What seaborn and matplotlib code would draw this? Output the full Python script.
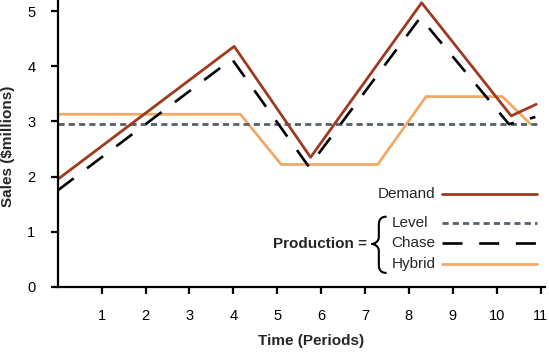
import matplotlib
matplotlib.use('Agg')
import matplotlib.pyplot as plt
import seaborn as sns
import numpy as np
from matplotlib.path import Path
from matplotlib.patches import PathPatch
from matplotlib.lines import Line2D

# dados
demand_t = [0, 4.02, 5.76, 8.29, 10.33, 10.9]
demand_v = [1.95, 4.36, 2.35, 5.15, 3.10, 3.31]

chase_t = [0, 3.97, 5.72, 8.26, 10.28, 10.88]
chase_v = [1.75, 4.13, 2.18, 4.88, 2.95, 3.08]

level_t = [0, 11]
level_v = [2.95, 2.95]

hybrid_t = [0, 4.16, 5.09, 7.29, 8.39, 10.13, 10.76]
hybrid_v = [3.13, 3.13, 2.22, 2.22, 3.45, 3.45, 2.96]

x_ticks = list(range(1, 12))
y_ticks = list(range(0, 6))

c_demand = '#9e3a1f'
c_level = '#56606a'
c_chase = '#000000'
c_hybrid = '#f0aa66'

ls_level = (0, (2.2, 1.5))
ls_chase = (0, (7.6, 6.3))

sns.set_style('ticks')
plt.rcParams['font.family'] = ['Liberation Sans', 'DejaVu Sans']

fig = plt.figure(figsize=(5.49, 3.55), dpi=100)
ax = fig.add_axes([57.7/549, 1 - 287/355, 487.3/549, 287/355])

sns.lineplot(x=hybrid_t, y=hybrid_v, ax=ax, color=c_hybrid, linewidth=2, sort=False)
sns.lineplot(x=level_t, y=level_v, ax=ax, color=c_level, linewidth=2, linestyle=ls_level, sort=False)
sns.lineplot(x=chase_t, y=chase_v, ax=ax, color=c_chase, linewidth=1.9, linestyle=ls_chase, sort=False)
sns.lineplot(x=demand_t, y=demand_v, ax=ax, color=c_demand, linewidth=2, sort=False)

ax.set_xlim(0, 11.1)
ax.set_ylim(0, 5.2)
ax.set_xticks(x_ticks)
ax.set_yticks(y_ticks)
ax.set_xticklabels([str(t) for t in x_ticks])
ax.set_yticklabels([str(t) for t in y_ticks])
sns.despine(ax=ax)
for s in ['left', 'bottom']:
    ax.spines[s].set_linewidth(1.6)
    ax.spines[s].set_color('black')
ax.tick_params(axis='both', direction='out', length=5, width=1.6, labelsize=10.5, colors='black')
ax.tick_params(axis='x', pad=11)
ax.tick_params(axis='y', pad=11)

ax.set_xlabel('Time (Periods)', fontsize=11, fontweight='bold')
ax.set_ylabel('Sales ($millions)', fontsize=11, fontweight='bold')
ax.xaxis.set_label_coords(0.519, -0.165)
ax.yaxis.set_label_coords(-0.088, 0.491)

# legenda manual
tr = ax.transAxes
ax.add_line(Line2D([0.788, 0.983], [0.324, 0.324], transform=tr, color=c_demand, lw=2, clip_on=False))
ax.add_line(Line2D([0.788, 0.983], [0.224, 0.224], transform=tr, color=c_level, lw=2,
                   linestyle=ls_level, clip_on=False))
ax.add_line(Line2D([0.788, 0.983], [0.152, 0.152], transform=tr, color=c_chase, lw=1.9,
                   linestyle=ls_chase, clip_on=False))
ax.add_line(Line2D([0.788, 0.983], [0.080, 0.080], transform=tr, color=c_hybrid, lw=2, clip_on=False))

ax.text(0.775, 0.324, 'Demand', transform=tr, ha='right', va='center', fontsize=11)
ax.text(0.685, 0.224, 'Level', transform=tr, ha='left', va='center', fontsize=11)
ax.text(0.685, 0.152, 'Chase', transform=tr, ha='left', va='center', fontsize=11)
ax.text(0.685, 0.080, 'Hybrid', transform=tr, ha='left', va='center', fontsize=11)
ax.text(0.441, 0.150, 'Production =', transform=tr, ha='left', va='center', fontsize=11, fontweight='bold')

# chave {
xr, xm, xl = 0.675, 0.659, 0.644
yt, yc, yb = 0.245, 0.150, 0.049
verts = [(xr, yt), (xm, yt), (xm, yt - 0.02), (xm, yt - 0.03),
         (xm, yc + 0.025),
         (xm, yc + 0.005), (xl + 0.004, yc), (xl, yc),
         (xl + 0.004, yc), (xm, yc - 0.005), (xm, yc - 0.025),
         (xm, yb + 0.03),
         (xm, yb + 0.02), (xm, yb), (xr, yb)]
codes = [Path.MOVETO, Path.CURVE4, Path.CURVE4, Path.CURVE4,
         Path.LINETO,
         Path.CURVE4, Path.CURVE4, Path.CURVE4,
         Path.CURVE4, Path.CURVE4, Path.CURVE4,
         Path.LINETO,
         Path.CURVE4, Path.CURVE4, Path.CURVE4]
ax.add_patch(PathPatch(Path(verts, codes), transform=tr, facecolor='none',
                       edgecolor='black', lw=1.5, clip_on=False))

fig.savefig('out.png', dpi=100)
